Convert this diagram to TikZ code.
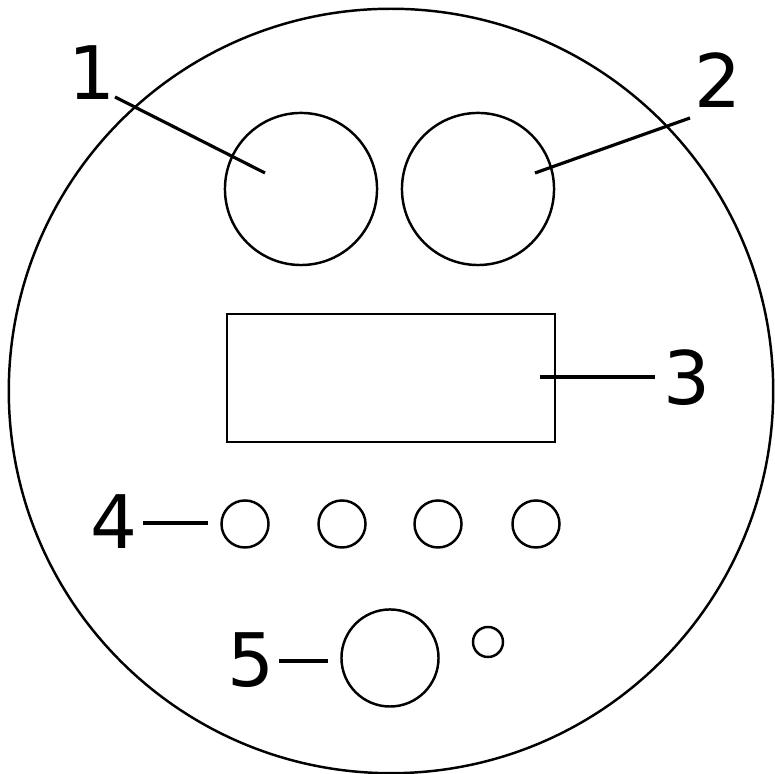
\documentclass[tikz,border=0pt]{standalone}
\usepackage{fontspec}
\setmainfont{DejaVu Sans}
\usetikzlibrary{positioning}

\begin{document}
\begin{tikzpicture}[x=0.01cm, y=-0.01cm,
  part/.style={circle, draw, line width=0.7pt, inner sep=0pt},
  panel/.style={rectangle, draw, line width=0.7pt, inner sep=0pt},
  num/.style={font=\fontsize{21}{21}\selectfont, inner sep=0pt},
  lead/.style={line width=0.9pt},
]
\useasboundingbox (0,0) rectangle (775,774);

%% ── Housing ──────────────────────────────────────────────────────────────────
\node[part, minimum size=7.64cm] (housing) at (391,391) {};

%% ── Two large ports ──────────────────────────────────────────────────────────
\node[part, minimum size=1.52cm] (portL) at (301,189) {};
\node[part, minimum size=1.52cm] (portR) at (478,189) {};

%% ── Display window ───────────────────────────────────────────────────────────
\node[panel, minimum width=3.28cm, minimum height=1.28cm] (disp) at (391,378) {};

%% ── Key row ──────────────────────────────────────────────────────────────────
\foreach \x [count=\i] in {245,342,438,536}
  \node[part, minimum size=0.47cm] (key\i) at (\x,524) {};

%% ── Main switch and lamp ─────────────────────────────────────────────────────
\node[part, minimum size=0.97cm] (switch) at (390,658) {};
\node[part, minimum size=0.30cm] (lamp) at (488,642) {};

%% ── Labels ───────────────────────────────────────────────────────────────────
\node[num] (lab1) at (92,73)   {1};
\node[num] (lab2) at (718,80)  {2};
\node[num] (lab3) at (687,378) {3};
\node[num] (lab4) at (114,522) {4};
\node[num] (lab5) at (251,660) {5};

%% ── Leader lines ─────────────────────────────────────────────────────────────
\coordinate (t1) at (115,97);  \coordinate (e1) at (265,173);
\coordinate (t2) at (690,118); \coordinate (e2) at (535,173);
\coordinate (t3) at (655,377); \coordinate (e3) at (540,377);
\coordinate (t4) at (143,523); \coordinate (e4) at (208,523);
\coordinate (t5) at (279,661); \coordinate (e5) at (328,661);

\draw[lead] (t1) -- (e1);
\draw[lead] (t2) -- (e2);
\draw[lead] (t3) -- (e3);
\draw[lead] (t4) -- (e4);
\draw[lead] (t5) -- (e5);

\end{tikzpicture}
\end{document}
